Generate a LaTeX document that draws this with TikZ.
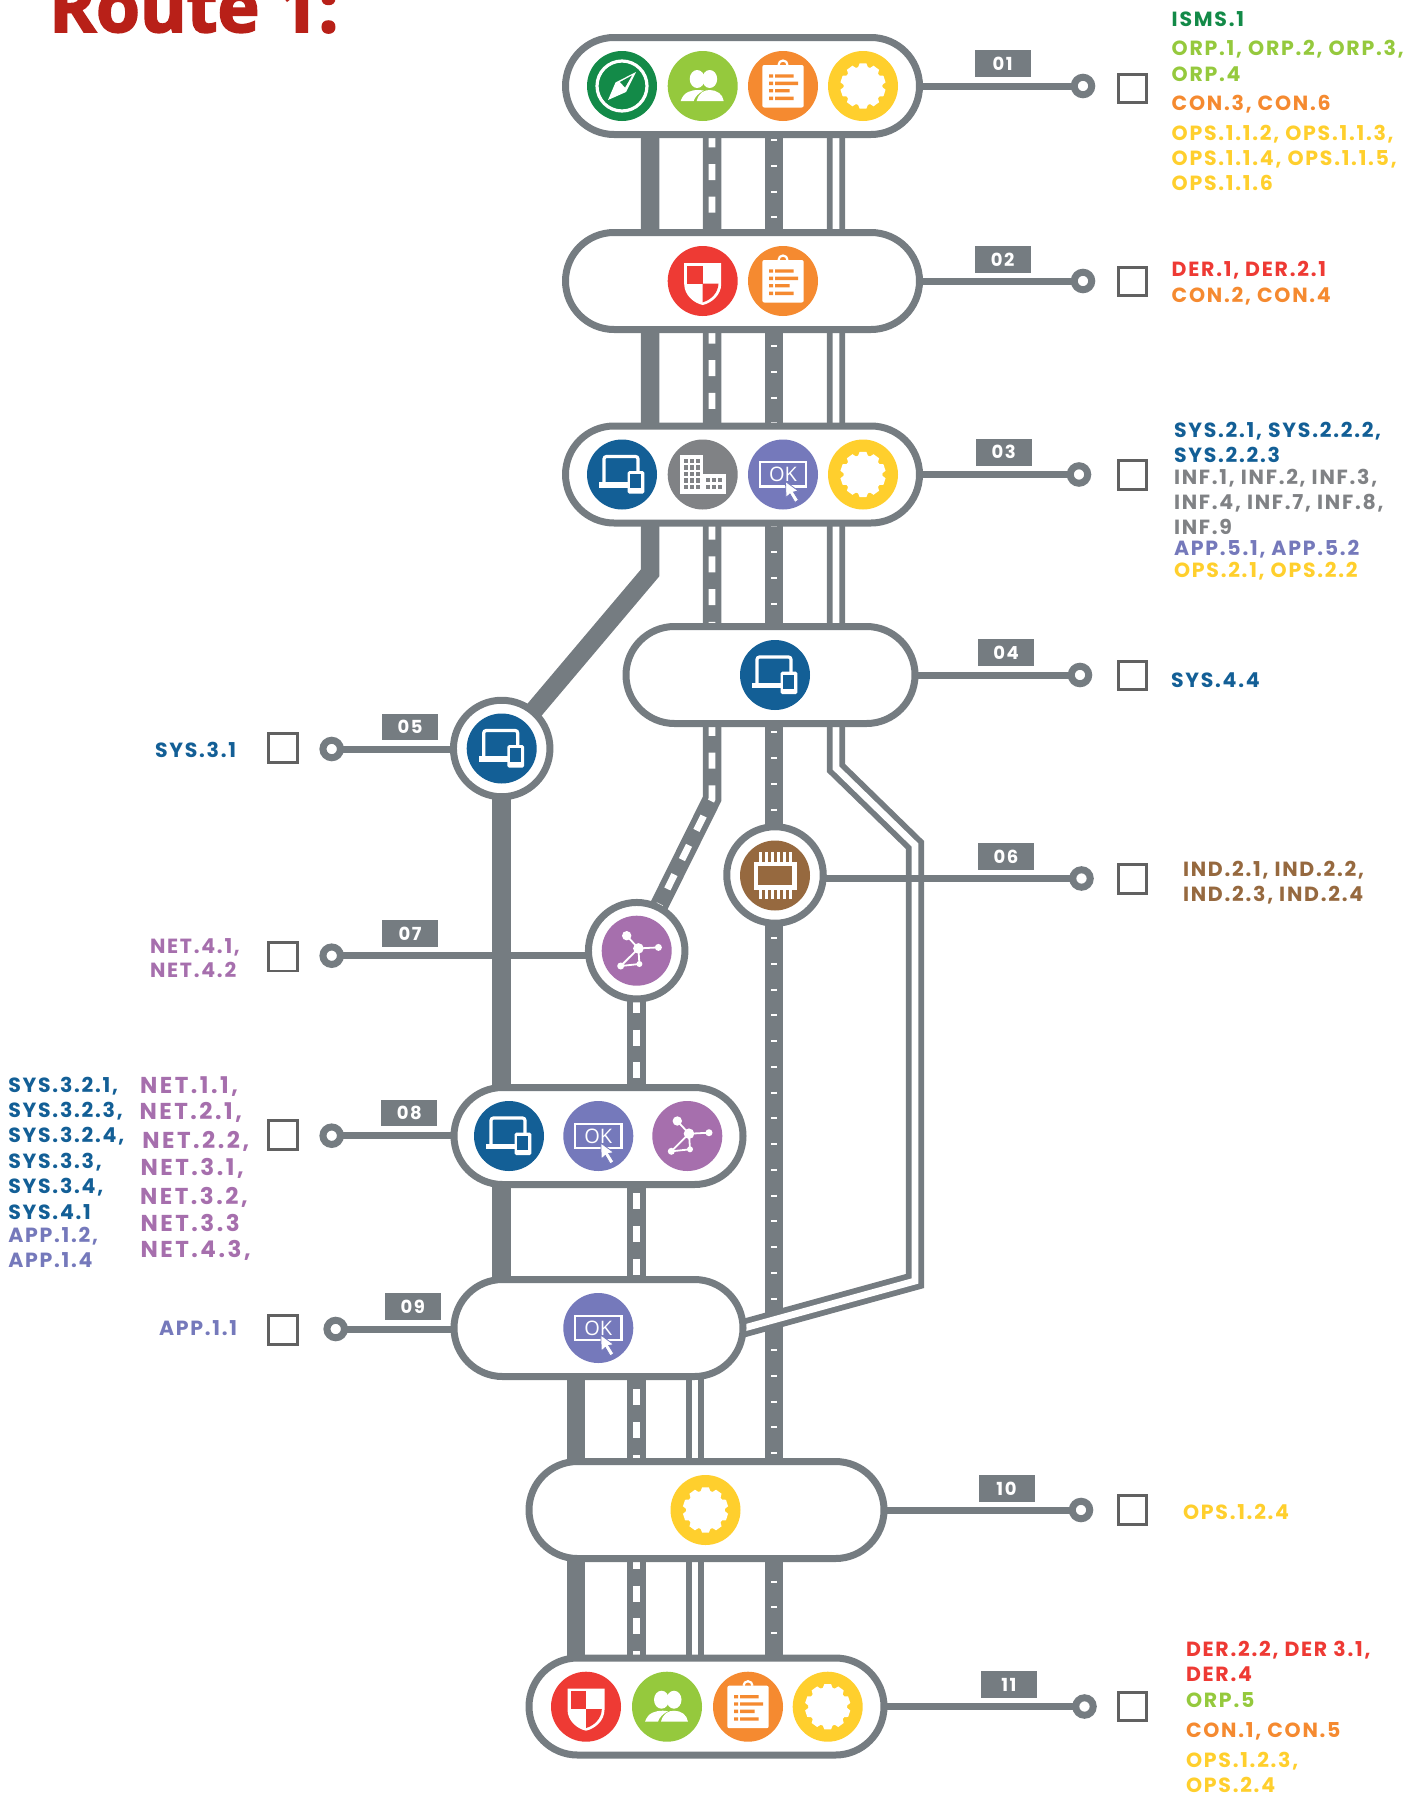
\documentclass[tikz,border=0pt]{standalone}
\usepackage{fontspec}
\setmainfont{Poppins}
\newfontfamily\labfont{Poppins}[LetterSpace=8.5]
\newfontfamily\labwide{Poppins}[LetterSpace=11]
\newfontfamily\ttlfont{Open Sans}[BoldFeatures={FakeBold=2.6}]
\newfontfamily\okfont{Open Sans}
\definecolor{rg}{HTML}{757C81}
\definecolor{cgreen}{HTML}{138A48}
\definecolor{clime}{HTML}{95C93D}
\definecolor{corange}{HTML}{F58A30}
\definecolor{cyellow}{HTML}{FFCF2D}
\definecolor{cred}{HTML}{EE3A34}
\definecolor{cblue}{HTML}{135F96}
\definecolor{cgrey}{HTML}{808285}
\definecolor{cok}{HTML}{7579BB}
\definecolor{cnet}{HTML}{A66FAD}
\definecolor{cbrown}{HTML}{96693F}
\definecolor{ctitle}{HTML}{B82018}
\newcounter{lb}
\newcommand{\lab}[4]{\stepcounter{lb}\node[lab,text=#1,font=\labfont\bfseries\fontsize{20.5}{20.5}\selectfont] (lab\arabic{lb}) at (#2,#3+7.2) {#4};}
\newcommand{\labw}[4]{\stepcounter{lb}\node[lab,text=#1,font=\labwide\bfseries\fontsize{23}{23}\selectfont] (lab\arabic{lb}) at (#2,#3+8) {#4};}
\tikzset{
  lab/.style={anchor=base west,inner sep=0pt,outer sep=0pt},
  pill/.style={draw=rg,fill=white,line width=7pt,rounded corners=48.5pt,minimum height=97pt,inner sep=0pt,outer sep=0pt},
  hub/.style={circle,draw=rg,fill=white,line width=7pt,minimum size=96.5pt,inner sep=0pt,outer sep=0pt},
  ring/.style={circle,draw=rg,fill=white,line width=7pt,minimum size=17.5pt,inner sep=0pt,outer sep=0pt},
  cbox/.style={draw=black!62,fill=white,line width=2.7pt,minimum size=28.5pt,inner sep=0pt,outer sep=0pt},
  tag/.style={fill=rg,text=white,minimum width=56pt,minimum height=26.5pt,inner sep=0pt,outer sep=0pt,font=\labfont\bfseries\fontsize{18}{18}\selectfont},
  conn/.style={draw=rg,line width=7pt},
  roadthick/.style={draw=rg,line width=18.5pt,miter limit=10},
  roaddash/.style={draw=rg,line width=18.5pt,miter limit=10,postaction={draw=white,line width=6.8pt,dash pattern=on 16pt off 16.7pt,dash phase=#1pt}},
  roadfine/.style={draw=rg,line width=18.5pt,postaction={draw=white,line width=6.5pt,dash pattern=on 2pt off 23.74pt,dash phase=#1pt}},
  roaddouble/.style={draw=rg,line width=5.8pt,double=white,double distance=6.8pt,miter limit=10},
  gear/.pic={
    \fill[cyellow] (0,0) circle (35pt);
    \fill[white] (0,0) circle (19.5pt);
    \foreach \a in {0,36,...,324}{\fill[white,rotate=\a] (-3.4,-22.6) -- (3.4,-22.6) -- (5.2,-18) -- (-5.2,-18) -- cycle;}
  },
  compass/.pic={
    \fill[cgreen] (0,0) circle (35pt);
    \draw[white,line width=3.2pt] (0,0) circle (25pt);
    \fill[white] (-14,14) -- (-6.5,-3.5) -- (14,-14) -- (4,6) -- cycle;
    \fill[cgreen] (10,-10.5) -- (-2,-4) -- (3,1.5) -- cycle;
  },
  people/.pic={
    \fill[clime] (0,0) circle (35pt);
    \fill[white] (-5.5,-7) ellipse [x radius=7.5pt,y radius=9pt];
    \fill[white] (7,-7) ellipse [x radius=7.5pt,y radius=9pt];
    \fill[white] (-22,15) .. controls (-19,6) and (-12,4) .. (-4,4) -- (1,4.5) .. controls (-4,7) and (-8,11) .. (-9,15) -- cycle;
    \fill[white] (-6,15) .. controls (-4,7) and (1,4) .. (7,4) .. controls (14,4) and (20,8) .. (21,15) -- cycle;
  },
  clip board/.pic={
    \fill[corange] (0,0) circle (35pt);
    \draw[white,line width=2.2pt] (-4.5,-21) arc[start angle=180,end angle=0,radius=4.5pt];
    \fill[white,rounded corners=2pt] (-20.7,-21) rectangle (20.7,21.5);
    \fill[corange] (-14,-11.7) rectangle (-10,-8.3) (-8,-11.7) rectangle (10.7,-8.3);
    \fill[corange] (-14,-4.4) rectangle (-10,-1) (-8,-4.4) rectangle (15,-1);
    \fill[corange] (-14,3) rectangle (-10,6.4) (-8,3) rectangle (6.7,6.4);
    \fill[corange] (-14,10.6) rectangle (-10,14) (-8,10.6) rectangle (10.7,14);
  },
  shield/.pic={
    \fill[cred] (0,0) circle (35pt);
    \fill[white] (-18.5,-18) -- (18.5,-18) -- (18.5,3) .. controls (18.5,14) and (9,22) .. (0,24) .. controls (-9,22) and (-18.5,14) .. (-18.5,3) -- cycle;
    \fill[cred] (-15.5,-15.5) rectangle (0,2.5);
    \fill[cred] (0,2.5) -- (15.8,2.5) .. controls (15.5,12) and (8,19) .. (0,21.3) -- cycle;
  },
  laptop/.pic={
    \fill[cblue] (0,0) circle (35pt);
    \draw[white,line width=3.2pt,rounded corners=2.5pt] (-18,8) -- (-18,-18) -- (16,-18) -- (16,8);
    \fill[white] (-22.7,7.5) rectangle (7,13);
    \fill[white,rounded corners=1.5pt] (5.7,-3.3) rectangle (22.3,19);
    \fill[cblue] (8.2,-0.3) rectangle (19.2,13.5);
  },
  building/.pic={
    \fill[cgrey] (0,0) circle (35pt);
    \fill[white] (-22.7,-20) rectangle (0,19.7);
    \fill[white] (0,-1) rectangle (23,19.7);
    \foreach \r in {-16,-9.5,-3,3.5,10}{\foreach \c in {-19,-13,-7}{\fill[cgrey] (\c,\r) rectangle ++(4.5,4.5);}}
    \foreach \r in {3,10}{\foreach \c in {3.5,9.5,15.5}{\fill[cgrey] (\c,\r) rectangle ++(4.2,4.2);}}
  },
  okicon/.pic={
    \fill[cok] (0,0) circle (35pt);
    \draw[white,line width=2.3pt] (-23.3,-12.2) rectangle (23.3,12);
    \node[text=white,inner sep=0pt,font=\okfont\fontsize{20}{20}\selectfont] (oktext) at (0,0.3) {OK};
    \fill[white,draw=cok,line width=0.8pt] (2.5,7) -- (3,23) -- (7,19.5) -- (12,28) -- (15.5,25.5) -- (10.5,17.5) -- (15.5,16.5) -- cycle;
  },
  network/.pic={
    \fill[cnet] (0,0) circle (35pt);
    \draw[white,line width=1.8pt] (-10,-15) -- (1.7,-2.3) -- (21.7,-3.3) (1.7,-2.3) -- (2.7,13.3) -- (-16,15.3) -- cycle;
    \fill[white] (1.7,-2.3) circle (5.3pt) (-10,-15) circle (4.7pt) (21.7,-3.3) circle (3.5pt) (2.7,13.3) circle (3pt) (-16,15.3) circle (3.5pt);
  },
  chip/.pic={
    \fill[cbrown] (0,0) circle (35pt);
    \foreach \c in {-15,-9,-3,3,9,15}{\fill[white] (\c-1.5,-23.5) rectangle (\c+1.5,23.5);}
    \fill[white] (-21.5,-14) rectangle (21.5,14);
    \fill[cbrown] (-17,-9.3) rectangle (17,9.3);
  }
}
\begin{document}
\begin{tikzpicture}[x=1pt,y=-1pt]
\clip (0,0) rectangle (1420,1796);
% title
\node[anchor=base west,inner sep=0pt,text=ctitle,font=\ttlfont\bfseries\fontsize{71}{71}\selectfont] (title) at (49,32) {Route 1:};
% pills and hubs are placed first as named places
\path
  (742.5,86) node[pill,minimum width=354pt,draw=none,fill=none] (p01) {}
  (742.5,281) node[pill,minimum width=354pt,draw=none,fill=none] (p02) {}
  (742.5,474.5) node[pill,minimum width=354pt,draw=none,fill=none] (p03) {}
  (770.5,675) node[pill,minimum width=289pt,draw=none,fill=none] (p04) {}
  (598.5,1136) node[pill,minimum width=289pt,draw=none,fill=none] (p08) {}
  (598.5,1328) node[pill,minimum width=289pt,draw=none,fill=none] (p09) {}
  (706.5,1510) node[pill,minimum width=355pt,draw=none,fill=none] (p10) {}
  (706.5,1706.5) node[pill,minimum width=355pt,draw=none,fill=none] (p11) {}
  (501.7,748.5) node[hub,draw=none,fill=none] (h05) {}
  (775,875) node[hub,draw=none,fill=none] (h06) {}
  (636.7,950.7) node[hub,draw=none,fill=none] (h07) {};
% road tracks
\coordinate (bA) at (650,573);
\coordinate (bB) at (712,799);
\coordinate (bC) at (836,768);
\coordinate (bD) at (915,845);
\coordinate (bE) at (915,1281);
\coordinate (bF) at (735,1330.5);
\coordinate (tA) at (650,0);
\coordinate (tB) at (712,0);
\coordinate (tC) at (774,0);
\coordinate (tD) at (836,0);
\coordinate (tE) at (576,0);
\coordinate (tF) at (636.7,0);
\coordinate (tG) at (695,0);
\draw[roadfine=23.96] (tC |- p01) -- (tC |- p11);
\draw[roaddouble] (tD |- p01) -- (bC) -- (bD) -- (bE) -- (bF);
\draw[roadthick] (tA |- p01) -- (bA) -- (h05.center);
\draw[roadthick] (tE |- p09) -- (tE |- p11);
\draw[roaddash=20.1] (tB |- p01) -- (bB) -- (h07.center);
\draw[roaddash=19.1] (h07.center) -- (tF |- p11);
\draw[roaddouble] (tG |- p09) -- (tG |- p11);
% rings and check boxes
\node[ring] (r01) at (1083,86) {};
\node[ring] (r02) at (1083,281) {};
\node[ring] (r03) at (1079,474.5) {};
\node[ring] (r04) at (1080,675) {};
\node[ring] (r05) at (331.7,749) {};
\node[ring] (r06) at (1081.5,878.5) {};
\node[ring] (r07) at (331.7,955.7) {};
\node[ring] (r08) at (331.7,1135.7) {};
\node[ring] (r09) at (335.7,1329) {};
\node[ring] (r10) at (1081,1510) {};
\node[ring] (r11) at (1084.5,1706.5) {};
\draw[conn] (p01.center |- r01) -- (r01);
\draw[conn] (p02.center |- r02) -- (r02);
\draw[conn] (p03.center |- r03) -- (r03);
\draw[conn] (p04.center |- r04) -- (r04);
\draw[conn] (h05.center |- r05) -- (r05);
\draw[conn] (h06.center |- r06) -- (r06);
\draw[conn] (h07.center |- r07) -- (r07);
\draw[conn] (p08.center |- r08) -- (r08);
\draw[conn] (p09.center |- r09) -- (r09);
\draw[conn] (p10.center |- r10) -- (r10);
\draw[conn] (p11.center |- r11) -- (r11);
\draw[roadthick] (h05.center) -- (h05 |- p09);
\node[cbox] (c01) at (1132.5,88.5) {};
\node[cbox] (c02) at (1132.5,281.5) {};
\node[cbox] (c03) at (1132.5,475) {};
\node[cbox] (c04) at (1132.5,675.5) {};
\node[cbox] (c05) at (283,748) {};
\node[cbox] (c06) at (1132.5,879) {};
\node[cbox] (c07) at (283,956.7) {};
\node[cbox] (c08) at (283,1135) {};
\node[cbox] (c09) at (283,1330) {};
\node[cbox] (c10) at (1132.5,1510) {};
\node[cbox] (c11) at (1132.5,1706.5) {};
% tags
\node[tag] (t01) at (1002.6,63.5) {01};
\node[tag] (t02) at (1002.6,259.4) {02};
\node[tag] (t03) at (1003.6,452.3) {03};
\node[tag] (t04) at (1006,652.6) {04};
\node[tag] (t05) at (410,727) {05};
\node[tag] (t06) at (1006,856.5) {06};
\node[tag] (t07) at (410,933.7) {07};
\node[tag] (t08) at (409.4,1113) {08};
\node[tag] (t09) at (412.8,1306.5) {09};
\node[tag] (t10) at (1006.5,1488.5) {10};
\node[tag] (t11) at (1008.8,1684.5) {11};
% pills and hubs on top of the roads
\node[pill,minimum width=354pt] (P01) at (p01) {};
\node[pill,minimum width=354pt] (P02) at (p02) {};
\node[pill,minimum width=354pt] (P03) at (p03) {};
\node[pill,minimum width=289pt] (P04) at (p04) {};
\node[pill,minimum width=289pt] (P08) at (p08) {};
\node[pill,minimum width=289pt] (P09) at (p09) {};
\node[pill,minimum width=355pt] (P10) at (p10) {};
\node[pill,minimum width=355pt] (P11) at (p11) {};
\node[hub] (H05) at (h05) {};
\node[hub] (H06) at (h06) {};
\node[hub] (H07) at (h07) {};
% icons
\pic at (622,86) {compass};
\pic at (702.7,86) {people};
\pic at (783,86) {clip board};
\pic at (863,86) {gear};
\pic at (702.7,281) {shield};
\pic at (783,281) {clip board};
\pic at (622,474.5) {laptop};
\pic at (702.7,474.5) {building};
\pic at (783,474.5) {okicon};
\pic at (863,474.5) {gear};
\pic at (775,675) {laptop};
\pic at (501.7,748.5) {laptop};
\pic at (775,875.5) {chip};
\pic at (636.7,950.7) {network};
\pic at (509,1136) {laptop};
\pic at (598.3,1136) {okicon};
\pic at (687.3,1136) {network};
\pic at (598.3,1328) {okicon};
\pic at (705.5,1510) {gear};
\pic at (586,1706.7) {shield};
\pic at (667,1706.7) {people};
\pic at (748,1706.7) {clip board};
\pic at (827.7,1706.7) {gear};
% labels right
\lab{cgreen}{1171.7}{19}{ISMS.1}
\lab{clime}{1171.7}{48}{ORP.1, ORP.2, ORP.3,}
\lab{clime}{1171.7}{74}{ORP.4}
\lab{corange}{1171.7}{103}{CON.3, CON.6}
\lab{cyellow}{1171.7}{133}{OPS.1.1.2, OPS.1.1.3,}
\lab{cyellow}{1171.7}{158}{OPS.1.1.4, OPS.1.1.5,}
\lab{cyellow}{1171.7}{183}{OPS.1.1.6}
\lab{cred}{1171.7}{269}{DER.1, DER.2.1}
\lab{corange}{1171.7}{295.7}{CON.2, CON.4}
\lab{cblue}{1174}{430}{SYS.2.1, SYS.2.2.2,}
\lab{cblue}{1174}{455}{SYS.2.2.3}
\lab{cgrey}{1174}{477.7}{INF.1, INF.2, INF.3,}
\lab{cgrey}{1174}{502.7}{INF.4, INF.7, INF.8,}
\lab{cgrey}{1174}{527.3}{INF.9}
\lab{cok}{1174}{548.3}{APP.5.1, APP.5.2}
\lab{cyellow}{1174}{570}{OPS.2.1, OPS.2.2}
\lab{cblue}{1171}{680}{SYS.4.4}
\lab{cbrown}{1183}{869}{IND.2.1, IND.2.2,}
\lab{cbrown}{1183}{894}{IND.2.3, IND.2.4}
\lab{cyellow}{1183}{1512.6}{OPS.1.2.4}
\lab{cred}{1186}{1649}{DER.2.2, DER 3.1,}
\lab{cred}{1186}{1674.3}{DER.4}
\lab{clime}{1186}{1700.7}{ORP.5}
\lab{corange}{1186}{1730}{CON.1, CON.5}
\lab{cyellow}{1186}{1760}{OPS.1.2.3,}
\lab{cyellow}{1186}{1785}{OPS.2.4}
% labels left
\lab{cblue}{155}{750.7}{SYS.3.1}
\lab{cnet}{150}{946}{NET.4.1,}
\lab{cnet}{150}{970.7}{NET.4.2}
\lab{cblue}{8.3}{1085}{SYS.3.2.1,}
\lab{cblue}{8.3}{1110}{SYS.3.2.3,}
\lab{cblue}{8.3}{1135.7}{SYS.3.2.4,}
\lab{cblue}{8.3}{1161}{SYS.3.3,}
\lab{cblue}{8.3}{1186.7}{SYS.3.4,}
\lab{cblue}{8.3}{1212.3}{SYS.4.1}
\lab{cok}{8.3}{1235.7}{APP.1.2,}
\lab{cok}{8.3}{1260.7}{APP.1.4}
\labw{cnet}{140}{1085}{NET.1.1,}
\labw{cnet}{139.5}{1111.7}{NET.2.1,}
\labw{cnet}{142.3}{1140}{NET.2.2,}
\labw{cnet}{140.5}{1167}{NET.3.1,}
\labw{cnet}{140}{1196.7}{NET.3.2,}
\labw{cnet}{140.5}{1223}{NET.3.3}
\labw{cnet}{140.5}{1249}{NET.4.3,}
\lab{cok}{159}{1328}{APP.1.1}
\end{tikzpicture}
\end{document}
